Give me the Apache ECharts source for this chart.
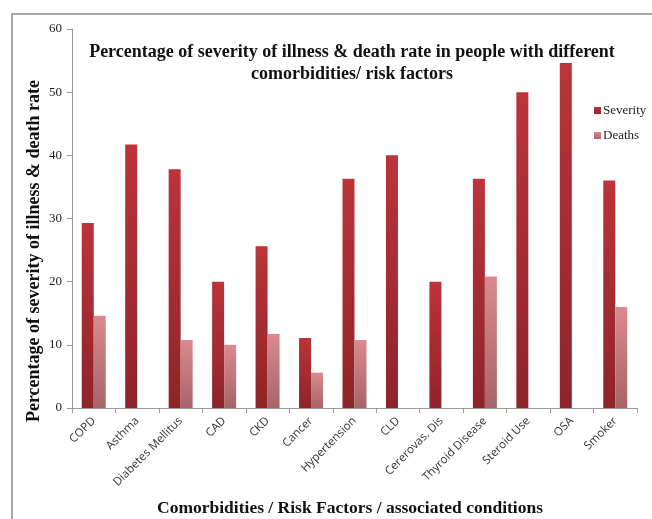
<!DOCTYPE html>
<html>
<head>
<meta charset="utf-8">
<script src="https://cdn.jsdelivr.net/npm/echarts@6/dist/echarts.min.js"></script>
<style>html,body{margin:0;padding:0;background:#fff;}#c{width:652px;height:519px;}</style>
</head>
<body>
<div id="c"></div>
<script>
const categories = ["COPD","Asthma","Diabetes Mellitus","CAD","CKD","Cancer","Hypertension","CLD","Cererovas. Dis","Thyroid Disease","Steroid Use","OSA","Smoker"];
const severity = [29.3, 41.7, 37.8, 20.0, 25.6, 11.1, 36.3, 40.0, 20.0, 36.3, 50.0, 54.6, 36.0];
const deaths = [14.6, null, 10.75, 10.0, 11.7, 5.6, 10.75, null, null, 20.8, null, null, 16.0];
const yTicks = [0, 10, 20, 30, 40, 50, 60];

const serif = '"Liberation Serif","Times New Roman",serif';
const chart = echarts.init(document.getElementById('c'), null, {renderer:'canvas'});
const grad = (a, b) => new echarts.graphic.LinearGradient(0, 0, 0, 1, [{offset:0,color:a},{offset:1,color:b}]);
chart.setOption({
  animation: false,
  backgroundColor: '#fff',
  title: {
    text: 'Percentage of severity of illness & death rate in people with different\ncomorbidities/ risk factors',
    left: 347, top: 36, textAlign: 'center',
    textStyle: {fontFamily: serif, fontWeight: 'bold', fontSize: 18, color: '#111', lineHeight: 22}
  },
  legend: {
    orient: 'vertical', left: 589, top: 99, itemWidth: 7, itemHeight: 7, itemGap: 12,
    icon: 'rect',
    textStyle: {fontFamily: serif, fontSize: 13, color: '#222', padding: [0,0,0,-3]},
    data: ['Severity', 'Deaths']
  },
  grid: {left: 72, right: 15, top: 29, bottom: 111, containLabel: false},
  xAxis: {
    type: 'category', data: categories,
    axisLine: {lineStyle: {color: '#999'}},
    axisTick: {show: true, length: 5, lineStyle: {color: '#999'}},
    axisLabel: {rotate: 45, fontFamily: '"Liberation Sans Narrow","Open Sans",sans-serif', fontSize: 11.5, color: '#333', margin: 11, interval: 0}
  },
  yAxis: {
    type: 'value', min: yTicks[0], max: yTicks[yTicks.length-1], interval: 10,
    splitLine: {show: false},
    axisLine: {show: true, lineStyle: {color: '#999'}},
    axisTick: {show: true, length: 5, lineStyle: {color: '#999'}},
    axisLabel: {fontFamily: serif, fontSize: 13, color: '#222', margin: 10}
  },
  series: [
    {name: 'Severity', type: 'bar', data: severity, barWidth: 12, barGap: '0%',
     itemStyle: {color: grad('#bb343a', '#8e2429')}},
    {name: 'Deaths', type: 'bar', data: deaths, barWidth: 12,
     itemStyle: {color: grad('#da8a8e', '#a86468')}}
  ],
  graphic: [
    {type: 'rect', shape: {x: 12, y: 14, width: 700, height: 600}, silent: true,
     style: {fill: 'none', stroke: '#8a8a8a', lineWidth: 1.5}, z: -1},
    {type: 'text', x: 34, y: 251, rotation: Math.PI/2,
     style: {text: 'Percentage of severity of illness & death rate', font: 'bold 18px ' + serif, fill: '#111', textAlign: 'center', textVerticalAlign: 'middle'}},
    {type: 'text', x: 350, y: 508,
     style: {text: 'Comorbidities / Risk Factors / associated conditions', font: 'bold 17.5px ' + serif, fill: '#111', textAlign: 'center', textVerticalAlign: 'middle'}}
  ]
});
</script>
</body>
</html>
